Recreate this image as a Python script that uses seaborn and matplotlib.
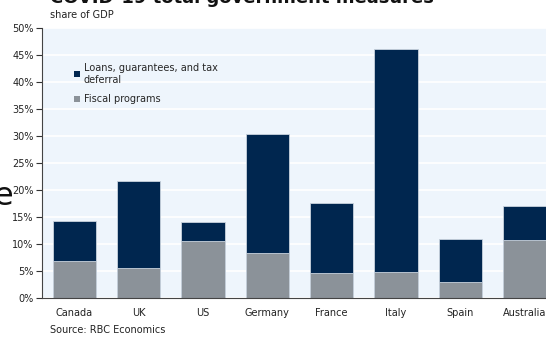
import numpy as np
import pandas as pd
import seaborn as sns
import matplotlib.pyplot as plt
import matplotlib.ticker as mticker
from matplotlib.patches import Patch

sns.set_theme(style="white")
plt.rcParams["font.family"] = ["DejaVu Sans"]

COLORS = {
    "loans": "#00264F",   # Prestamos / garantias
    "fiscal": "#8B9299",  # Programas fiscales
    "bg": "#EEF5FC",
}

countries = ["Canada", "UK", "US", "Germany", "France", "Italy", "Spain", "Australia"]
total_pct = [14.2, 21.7, 14.1, 30.4, 17.6, 46.1, 10.9, 17.0]
fiscal_pct = [6.8, 5.5, 10.5, 8.3, 4.6, 4.8, 3.0, 10.7]

df = pd.DataFrame({"country": countries, "total": total_pct, "fiscal": fiscal_pct})

W, H = 546, 337
fig = plt.figure(figsize=(W / 100, H / 100), dpi=100)
ax = fig.add_axes([42 / W, (H - 298) / H, 515 / W, 270 / H])
ax.set_facecolor(COLORS["bg"])

sns.barplot(data=df, x="country", y="total", color=COLORS["loans"], width=0.67,
            edgecolor="#c9d3de", linewidth=0.6, saturation=1, ax=ax)
sns.barplot(data=df, x="country", y="fiscal", color=COLORS["fiscal"], width=0.67,
            edgecolor="#c9d3de", linewidth=0.6, saturation=1, ax=ax)

ax.set_xlim(-0.5, 7.5)
ax.set_ylim(0, 50)
ax.set_yticks(np.arange(0, 51, 5))
ax.yaxis.set_major_formatter(mticker.FuncFormatter(lambda v, p: f"{v:.0f}%"))
ax.yaxis.grid(True, color="white", linewidth=1.2)
ax.set_axisbelow(True)
ax.set_xlabel("")
ax.set_ylabel("")

# ticks between categories
ax.set_xticks(np.arange(-0.5, 8, 1), minor=True)
ax.tick_params(axis="x", which="major", length=0, labelsize=7, colors="#222222", pad=7)
ax.tick_params(axis="x", which="minor", length=4, width=0.8, color="#333333", direction="out")
ax.tick_params(axis="y", length=4, width=0.8, color="#333333", direction="out",
               labelsize=7, labelcolor="#222222", pad=2, left=True)

for s in ["top", "right"]:
    ax.spines[s].set_visible(False)
ax.spines["left"].set_color("#444444")
ax.spines["bottom"].set_color("#444444")
ax.spines["left"].set_linewidth(0.8)
ax.spines["bottom"].set_linewidth(0.8)

handles = [Patch(facecolor=COLORS["loans"], edgecolor="none"),
           Patch(facecolor=COLORS["fiscal"], edgecolor="none")]
ax.legend(handles, ["Loans, guarantees, and tax\ndeferral", "Fiscal programs"],
          loc="upper left", bbox_to_anchor=(0.055, 0.885), frameon=False,
          fontsize=7, handlelength=0.6, handleheight=0.6, handletextpad=0.4,
          labelspacing=1.0, borderaxespad=0)

fig.text(50 / W, 1 - 3 / H, "COVID-19 total government measures", fontsize=13,
         fontweight="bold", va="baseline", ha="left", color="#111111")
fig.text(50 / W, 1 - 15 / H, "share of GDP", fontsize=7, va="center", ha="left", color="#222222")
fig.text(50 / W, 1 - 330 / H, "Source: RBC Economics", fontsize=7, va="center", ha="left",
         color="#222222")
fig.text(-7 / W, 1 - 205 / H, "e", fontsize=23, va="baseline", ha="left", color="#111111")

fig.savefig("out.png", dpi=100)
